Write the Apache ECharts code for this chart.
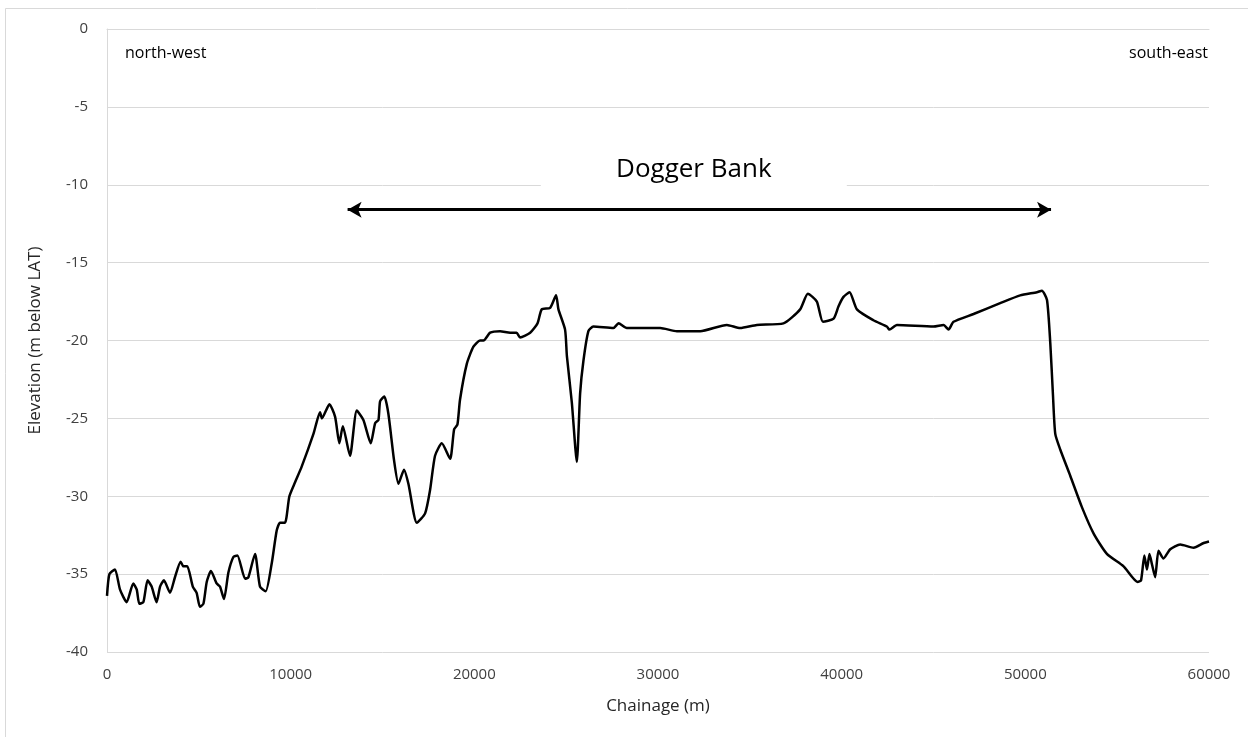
<!DOCTYPE html>
<html>
<head>
<meta charset="utf-8">
<script src="https://cdn.jsdelivr.net/npm/echarts@6/dist/echarts.min.js"></script>
<style>
  html, body { margin: 0; padding: 0; background: #fff; }
  #chart { width: 1248px; height: 737px; }
</style>
</head>
<body>
<div id="chart"></div>
<script>
// Seabed profile along the survey line (chainage in m, elevation in m below LAT)
const chainage = [
  0, 130, 435, 710, 1070, 1430, 1620, 1760, 1980, 2210, 2430, 2700, 2890, 3100, 3430, 3700,
  4010, 4160, 4370, 4670, 4880, 5060, 5250, 5430, 5660, 5970, 6150, 6370, 6610, 6880, 7100,
  7520, 7700, 8060, 8330, 8640, 8970, 9240, 9420, 9690, 9930, 10240, 10600, 11240, 11600,
  11700, 12110, 12420, 12650, 12840, 13230, 13600, 13960, 14360, 14600, 14780, 14870, 15100,
  15320, 15630, 15870, 16170, 16410, 16870, 17320, 17590, 17860, 18230, 18680, 18900, 19080,
  19220, 19590, 19950, 20310, 20500, 20860, 21400, 21950, 22300, 22490, 23040, 23440, 23670,
  24130, 24450, 24580, 24940, 25040, 25310, 25580, 25760, 25940, 26210, 26480, 27570, 27850,
  28300, 29570, 30120, 31030, 32300, 33750, 34470, 35380, 36830, 37740, 38160, 38650, 38980,
  39560, 39830, 40100, 40430, 40830, 41730, 42460, 42600, 43010, 45000, 45550, 45820, 46090,
  47180, 48630, 49720, 50630, 50900, 51180, 51360, 51500, 51630, 51900, 52450, 53080, 53720,
  54440, 55350, 56110, 56300, 56480, 56620, 56760, 56900, 57070, 57250, 57520, 57890, 58430,
  59160, 59710, 60000
];
const elevation = [
  -36.4, -35.0, -34.7, -36.0, -36.8, -35.6, -36.0, -36.9, -36.8, -35.4, -35.8, -36.8, -35.8,
  -35.4, -36.2, -35.2, -34.2, -34.5, -34.5, -35.8, -36.2, -37.1, -36.9, -35.5, -34.8, -35.6,
  -35.8, -36.6, -34.9, -33.9, -33.8, -35.3, -35.2, -33.7, -35.8, -36.1, -34.3, -32.2, -31.7,
  -31.7, -30.0, -29.1, -28.1, -26.0, -24.6, -25.0, -24.1, -24.9, -26.6, -25.5, -27.4, -24.5,
  -25.1, -26.6, -25.3, -25.1, -23.9, -23.6, -24.7, -27.7, -29.2, -28.3, -29.2, -31.7, -31.1,
  -29.6, -27.4, -26.6, -27.6, -25.7, -25.4, -23.8, -21.5, -20.4, -20.0, -20.0, -19.5, -19.4,
  -19.5, -19.5, -19.8, -19.5, -18.9, -18.0, -17.9, -17.1, -18.0, -19.3, -21.0, -24.0, -27.8,
  -23.4, -21.3, -19.4, -19.1, -19.2, -18.9, -19.2, -19.2, -19.2, -19.4, -19.4, -19.0, -19.2,
  -19.0, -18.9, -18.0, -17.0, -17.5, -18.8, -18.6, -17.8, -17.2, -16.9, -18.0, -18.7, -19.1,
  -19.3, -19.0, -19.1, -19.0, -19.3, -18.8, -18.3, -17.6, -17.1, -16.9, -16.8, -17.4, -20.2,
  -23.4, -26.0, -27.0, -28.7, -30.7, -32.4, -33.7, -34.5, -35.5, -35.4, -33.8, -34.7, -33.7,
  -34.4, -35.2, -33.5, -34.0, -33.4, -33.1, -33.3, -33.0, -32.9
];

// Axis ticks and annotation
const yTicks = [0, -5, -10, -15, -20, -25, -30, -35, -40];
const xTicks = [0, 10000, 20000, 30000, 40000, 50000, 60000];
const bankStart = 13100;
const bankEnd = 51400;
const bankLevel = -11.6;
const bankLabel = 'Dogger Bank';

const fontFamily = '"Open Sans", "Liberation Sans", sans-serif';
const profile = chainage.map((c, i) => [c, elevation[i]]);

const chart = echarts.init(document.getElementById('chart'), null, { renderer: 'canvas' });

chart.setOption({
  animation: false,
  backgroundColor: '#ffffff',
  grid: { left: 107, right: 39, top: 29, bottom: 85, containLabel: false },
  xAxis: {
    type: 'value',
    min: xTicks[0],
    max: xTicks[xTicks.length - 1],
    interval: 10000,
    name: 'Chainage (m)',
    nameLocation: 'middle',
    nameGap: 46,
    nameTextStyle: { fontFamily, fontSize: 17, color: '#262626' },
    axisLine: { show: true, lineStyle: { color: '#d9d9d9', width: 1 } },
    axisTick: { show: false },
    splitLine: { show: false },
    axisLabel: {
      fontFamily, fontSize: 15, color: '#404040', margin: 15,
      formatter: v => String(v)
    }
  },
  yAxis: {
    type: 'value',
    min: yTicks[yTicks.length - 1],
    max: yTicks[0],
    interval: 5,
    name: 'Elevation (m below LAT)',
    nameLocation: 'middle',
    nameGap: 63,
    nameRotate: 90,
    nameTextStyle: { fontFamily, fontSize: 17, color: '#262626' },
    axisLine: { show: true, lineStyle: { color: '#d9d9d9', width: 1 } },
    axisTick: { show: false },
    splitLine: { show: true, lineStyle: { color: '#d9d9d9', width: 1 } },
    axisLabel: { fontFamily, fontSize: 15, color: '#404040', margin: 19 }
  },
  graphic: [
    // outer chart frame
    {
      type: 'rect', z: -10, silent: true,
      shape: { x: 5.5, y: 8.5, width: 1300, height: 800 },
      style: { fill: 'none', stroke: '#d9d9d9', lineWidth: 1 }
    },
    {
      type: 'text', left: 125, top: 45, z: 10,
      style: { text: 'north-west', fontFamily, fontSize: 16, fill: '#000' }
    },
    {
      type: 'text', right: 40, top: 45, z: 10,
      style: { text: 'south-east', fontFamily, fontSize: 16, fill: '#000' }
    }
  ],
  series: [
    {
      type: 'line',
      data: profile,
      showSymbol: false,
      smooth: 0.2,
      lineStyle: { color: '#000', width: 2.5 },
      z: 3,
      markLine: {
        silent: true,
        symbol: ['arrow', 'arrow'],
        symbolSize: [12, 14],
        label: { show: false },
        lineStyle: { color: '#000', width: 3, type: 'solid' },
        data: [[{ coord: [bankStart, bankLevel] }, { coord: [bankEnd, bankLevel] }]]
      },
      markPoint: {
        silent: true,
        symbol: 'rect',
        symbolSize: [306, 36],
        itemStyle: { color: '#ffffff' },
        label: {
          show: true,
          position: 'inside',
          formatter: bankLabel,
          fontFamily,
          fontSize: 26,
          color: '#000'
        },
        data: [{ coord: [(bankStart + bankEnd) / 2 - 300, -9.05] }]
      }
    }
  ]
});
</script>
</body>
</html>
